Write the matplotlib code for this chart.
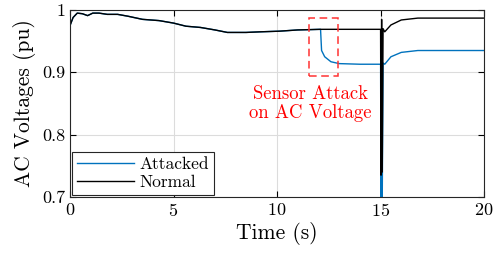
import numpy as np
import matplotlib.pyplot as plt
from matplotlib.patches import Rectangle

plt.rcParams['font.family'] = 'serif'
plt.rcParams['font.serif'] = ['cmr10', 'DejaVu Serif']
plt.rcParams['mathtext.fontset'] = 'cm'
plt.rcParams['axes.formatter.use_mathtext'] = True

# pre-attack profile shared by both cases
t_pre = [0, 0.15, 0.35, 0.6, 0.85, 1.1, 1.4, 1.8, 2.3, 2.8, 3.5, 4.3, 5.0,
         5.6, 6.3, 7.0, 7.6, 8.5, 9.2, 10.1, 11.0, 12.1]
v_pre = [0.975, 0.988, 0.995, 0.994, 0.991, 0.995, 0.995, 0.993, 0.993, 0.990,
         0.985, 0.983, 0.979, 0.974, 0.972, 0.968, 0.964, 0.964, 0.965, 0.966,
         0.968, 0.969]

# normal case after 12.1 s
t_norm_post = [13.0, 14.0, 15.0, 15.02, 15.05, 15.08, 15.12, 15.2, 15.5, 16.0,
               16.8, 20.0]
v_norm_post = [0.969, 0.969, 0.969, 0.735, 0.985, 0.740, 0.970, 0.965, 0.976,
               0.984, 0.987, 0.987]

# attacked case after 12.1 s
t_att_post = [12.15, 12.3, 12.6, 13.0, 14.0, 15.0, 15.02, 15.05, 15.08, 15.12,
              15.2, 15.5, 16.0, 16.8, 20.0]
v_att_post = [0.935, 0.925, 0.917, 0.914, 0.913, 0.913, 0.700, 0.960, 0.697,
              0.915, 0.913, 0.925, 0.932, 0.935, 0.935]

t_normal = t_pre + t_norm_post
v_normal = v_pre + v_norm_post
t_attacked = t_pre + t_att_post
v_attacked = v_pre + v_att_post

fig = plt.figure(figsize=(4.94, 2.61), dpi=100)
ax = fig.add_axes([0.1417, 0.2452, 0.8383, 0.7165])

ax.plot(t_attacked, v_attacked, color='#0072BD', lw=1.0, label='Attacked')
ax.plot(t_normal, v_normal, color='black', lw=1.0, label='Normal')

ax.set_xlim(0, 20)
ax.set_ylim(0.7, 1.0)
ax.set_xticks([0, 5, 10, 15, 20])
ax.set_yticks([0.7, 0.8, 0.9, 1.0])
ax.set_yticklabels(['0.7', '0.8', '0.9', '1'])
ax.grid(True, color='#dcdcdc', lw=0.8)
ax.set_axisbelow(True)
ax.tick_params(direction='in', top=True, right=True, labelsize=13, length=4,
               width=0.8)
for s in ax.spines.values():
    s.set_linewidth(0.8)
    s.set_color('#262626')

ax.set_xlabel('Time (s)', fontsize=15.5, labelpad=2)
ax.set_ylabel('AC Voltages (pu)', fontsize=15.5, labelpad=4)

# attack highlight
ax.add_patch(Rectangle((11.55, 0.894), 1.4, 0.093, fill=False, edgecolor='#ff3333',
                       lw=1.1, ls=(0, (5, 3)), zorder=5))
ax.text(11.6, 0.85, 'Sensor Attack\non AC Voltage', color='#ff0000', fontsize=13.5,
        ha='center', va='center', linespacing=1.1)

leg = ax.legend(loc='lower left', fontsize=12.5, handlelength=3.3, fancybox=False,
                edgecolor='#262626', framealpha=1, borderaxespad=0.1,
                borderpad=0.3, labelspacing=0.15, handletextpad=0.3)
leg.get_frame().set_linewidth(0.8)

fig.savefig('out.png', dpi=100)
